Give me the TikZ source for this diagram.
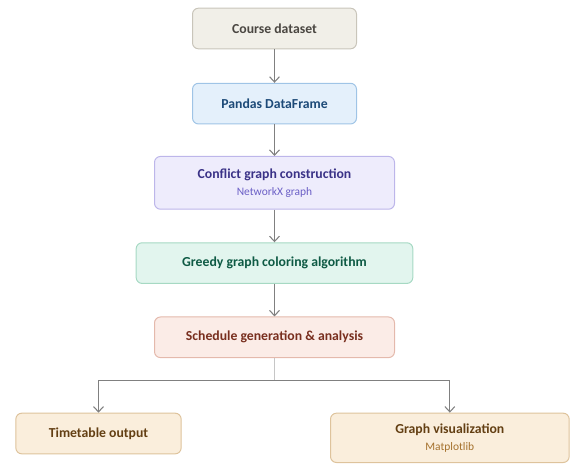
\documentclass[tikz,border=0pt]{standalone}
\usepackage{fontspec}
\setmainfont{Carlito}
\usepackage{xcolor}
\usepackage{tikz}
\usetikzlibrary{arrows.meta, positioning, calc}
\definecolor{grayA}{HTML}{4A4641}
\definecolor{grayB}{HTML}{F1EFE8}
\definecolor{grayC}{HTML}{C9C5BA}
\definecolor{blueA}{HTML}{1C4A78}
\definecolor{blueB}{HTML}{E4F0FB}
\definecolor{blueC}{HTML}{9FC4E6}
\definecolor{violetA}{HTML}{3A3287}
\definecolor{violetB}{HTML}{EEECFC}
\definecolor{violetC}{HTML}{BDB6EA}
\definecolor{violetD}{HTML}{6B5FC6}
\definecolor{greenA}{HTML}{0E5A44}
\definecolor{greenB}{HTML}{E2F5EE}
\definecolor{greenC}{HTML}{A6D9C3}
\definecolor{redA}{HTML}{782E1E}
\definecolor{redB}{HTML}{FBECE7}
\definecolor{redC}{HTML}{E4B9AC}
\definecolor{brownA}{HTML}{633F13}
\definecolor{brownB}{HTML}{FAEEDC}
\definecolor{brownC}{HTML}{DEC39C}
\definecolor{brownD}{HTML}{A5722E}
\definecolor{linkA}{HTML}{808080}
\tikzset{
  stagebox/.style n args={3}{
    draw=#3, fill=#2, text=#1, rounded corners=4.5pt,
    line width=0.75pt, align=center, inner sep=3pt,
    minimum height=30.5pt, font=\fontsize{10.3}{12}\selectfont\bfseries
  },
  link/.style={-{Straight Barb[length=1.4mm, width=2.6mm]}, line width=0.8pt, color=linkA},
  tie/.style={line width=0.8pt, color=linkA!45}
}
\newcommand{\subnote}[2]{\\[1pt]{\fontsize{8.6}{10}\selectfont\mdseries\color{#1}#2}}

\begin{document}
\begin{tikzpicture}[x=0.75pt, y=-0.75pt, node distance=24.4pt]
  \useasboundingbox (0,0) rectangle (573,464);

  \node[stagebox={grayA}{grayB}{grayC}, minimum width=123pt] (dataset) at (274.5,28.5)
    {Course dataset};
  \node[stagebox={blueA}{blueB}{blueC}, minimum width=123pt, below=25.1pt of dataset] (frame)
    {Pandas DataFrame};
  \node[stagebox={violetA}{violetB}{violetC}, minimum width=180pt, minimum height=39.6pt,
    below=23.6pt of frame] (conflict)
    {Conflict graph construction\subnote{violetD}{NetworkX graph}};
  \node[stagebox={greenA}{greenB}{greenC}, minimum width=207.5pt, below=of conflict] (greedy)
    {Greedy graph coloring algorithm};
  \node[stagebox={redA}{redB}{redC}, minimum width=180pt, below=of greedy] (schedule)
    {Schedule generation \& analysis};

  % outputs
  \node[stagebox={brownA}{brownB}{brownC}, minimum width=124pt,
    below=40.9pt of schedule, xshift=-132pt] (timetable)
    {Timetable output};
  \node[stagebox={brownA}{brownB}{brownC}, minimum width=179pt, minimum height=37pt,
    below=40.9pt of schedule, xshift=131.5pt] (visual)
    {Graph visualization\subnote{brownD}{Matplotlib}};

  \draw[link] (dataset) -- (frame);
  \draw[link] (frame) -- (conflict);
  \draw[link] (conflict) -- (greedy);
  \draw[link] (greedy) -- (schedule);

  \coordinate (split) at ($(schedule.south)+(0,22)$);
  \draw[tie] (schedule) -- (split);
  \draw[link] (split) -| (timetable);
  \draw[link] (split) -| (visual);
\end{tikzpicture}
\end{document}
